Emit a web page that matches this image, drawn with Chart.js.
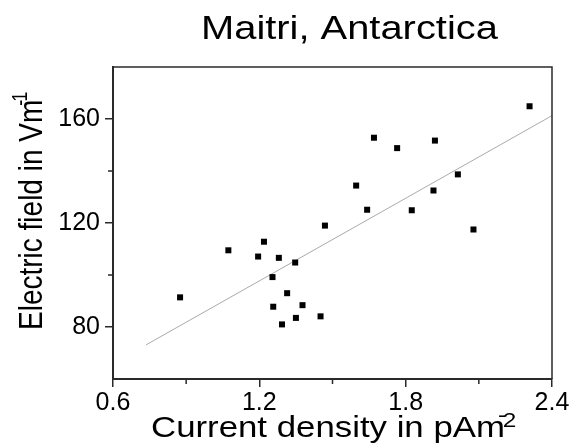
<!DOCTYPE html>
<html>
<head>
<meta charset="utf-8">
<script src="https://cdn.jsdelivr.net/npm/chart.js@4.4.1/dist/chart.umd.min.js"></script>
<style>
  body { margin: 0; background: #fff; }
  #wrap { width: 579px; height: 447px; }
</style>
</head>
<body>
<div id="wrap"><canvas id="fieldChart" width="579" height="447"></canvas></div>
<script>
// values
const currentDensity = [0.875, 1.073, 1.219, 1.195, 1.280, 1.347, 1.254, 1.314, 1.257, 1.377, 1.350, 1.293,
    1.451, 1.469, 2.308, 1.670, 1.765, 1.920, 1.597, 1.642, 1.825, 1.914, 2.014, 2.078];
const electricField = [91.4, 109.5, 112.8, 107.1, 106.6, 104.8, 99.2, 93.0, 87.8, 88.4, 83.5, 81.0,
    84.1, 119.0, 164.9, 152.8, 148.8, 151.7, 134.4, 125.1, 124.9, 132.5, 138.7, 117.5];
// linear fit line end points
const fitX = [0.735, 2.4];
const fitY = [73.1, 161.3];

const xTicks = [0.6, 1.2, 1.8, 2.4];
const xMinor = [0.9, 1.5, 2.1];
const yTicks = [80, 120, 160];
const yMinor = [100, 140];

const FONT = '"Liberation Sans", Arial, sans-serif';
const AXIS = '#2a2a2a';

// draws frame, minor ticks and the titles (with superscripts)
const decor = {
    id: 'decor',
    afterDraw(chart) {
        const { ctx, chartArea: a, scales } = chart;
        ctx.save();
        ctx.strokeStyle = AXIS;
        ctx.lineWidth = 1.5;
        ctx.beginPath();
        ctx.moveTo(a.left, a.top);
        ctx.lineTo(a.right, a.top);
        ctx.lineTo(a.right, a.bottom);
        xMinor.forEach(v => {
            const px = scales.x.getPixelForValue(v);
            ctx.moveTo(px, a.bottom);
            ctx.lineTo(px, a.bottom + 5);
        });
        yMinor.forEach(v => {
            const py = scales.y.getPixelForValue(v);
            ctx.moveTo(a.left, py);
            ctx.lineTo(a.left - 5, py);
        });
        ctx.stroke();

        ctx.fillStyle = '#000';
        ctx.textAlign = 'left';
        ctx.textBaseline = 'alphabetic';

        // chart title
        ctx.save();
        ctx.translate(201, 38.5);
        ctx.scale(1.19, 1);
        ctx.font = '33.5px ' + FONT;
        ctx.fillText('Maitri, Antarctica', 0, 0);
        ctx.restore();

        // x title
        ctx.save();
        ctx.translate(151, 437);
        ctx.scale(1.16, 1);
        ctx.font = '30px ' + FONT;
        const xMain = 'Current density in pAm';
        ctx.fillText(xMain, 0, 0);
        const xw = ctx.measureText(xMain).width;
        ctx.font = '21px ' + FONT;
        ctx.fillText('-', xw - 6, -15);
        ctx.fillText('2', xw - 2, -10);
        ctx.restore();

        // y title
        ctx.save();
        ctx.translate(42, 330);
        ctx.rotate(-Math.PI / 2);
        ctx.scale(1, 1.18);
        ctx.font = '28px ' + FONT;
        const yMain = 'Electric field in Vm';
        ctx.fillText(yMain, 0, 0);
        const yw = ctx.measureText(yMain).width;
        ctx.font = '18px ' + FONT;
        ctx.fillText('-', yw - 6, -13);
        ctx.fillText('1', yw - 2, -13);
        ctx.restore();

        ctx.restore();
    }
};

const points = currentDensity.map((x, i) => ({ x: x, y: electricField[i] }));
const fitLine = fitX.map((x, i) => ({ x: x, y: fitY[i] }));

new Chart(document.getElementById('fieldChart').getContext('2d'), {
    type: 'scatter',
    data: {
        datasets: [{
            data: points,
            pointStyle: 'rect',
            pointRadius: 4.25,
            pointBorderWidth: 0,
            backgroundColor: '#000'
        }, {
            data: fitLine,
            showLine: true,
            pointRadius: 0,
            borderColor: '#aaa',
            borderWidth: 1
        }]
    },
    options: {
        responsive: false,
        animation: false,
        layout: { padding: { left: 0, right: 27, top: 67, bottom: 0 } },
        plugins: { legend: { display: false }, tooltip: { enabled: false } },
        scales: {
            x: {
                type: 'linear',
                min: 0.6,
                max: 2.4,
                afterBuildTicks: s => { s.ticks = xTicks.map(v => ({ value: v })); },
                afterFit: s => { s.height = 68; },
                border: { display: true, color: AXIS, width: 2 },
                grid: { drawOnChartArea: false, tickLength: 8, color: AXIS, lineWidth: 1.5 },
                ticks: { color: '#000', font: { family: FONT, size: 25 }, padding: 1, maxRotation: 0 }
            },
            y: {
                type: 'linear',
                min: 60,
                max: 180,
                afterBuildTicks: s => { s.ticks = yTicks.map(v => ({ value: v })); },
                afterFit: s => { s.width = 113; },
                border: { display: true, color: AXIS, width: 2 },
                grid: { drawOnChartArea: false, tickLength: 8, color: AXIS, lineWidth: 1.5 },
                ticks: { color: '#000', font: { family: FONT, size: 25 }, padding: 5 }
            }
        }
    },
    plugins: [decor]
});
</script>
</body>
</html>
